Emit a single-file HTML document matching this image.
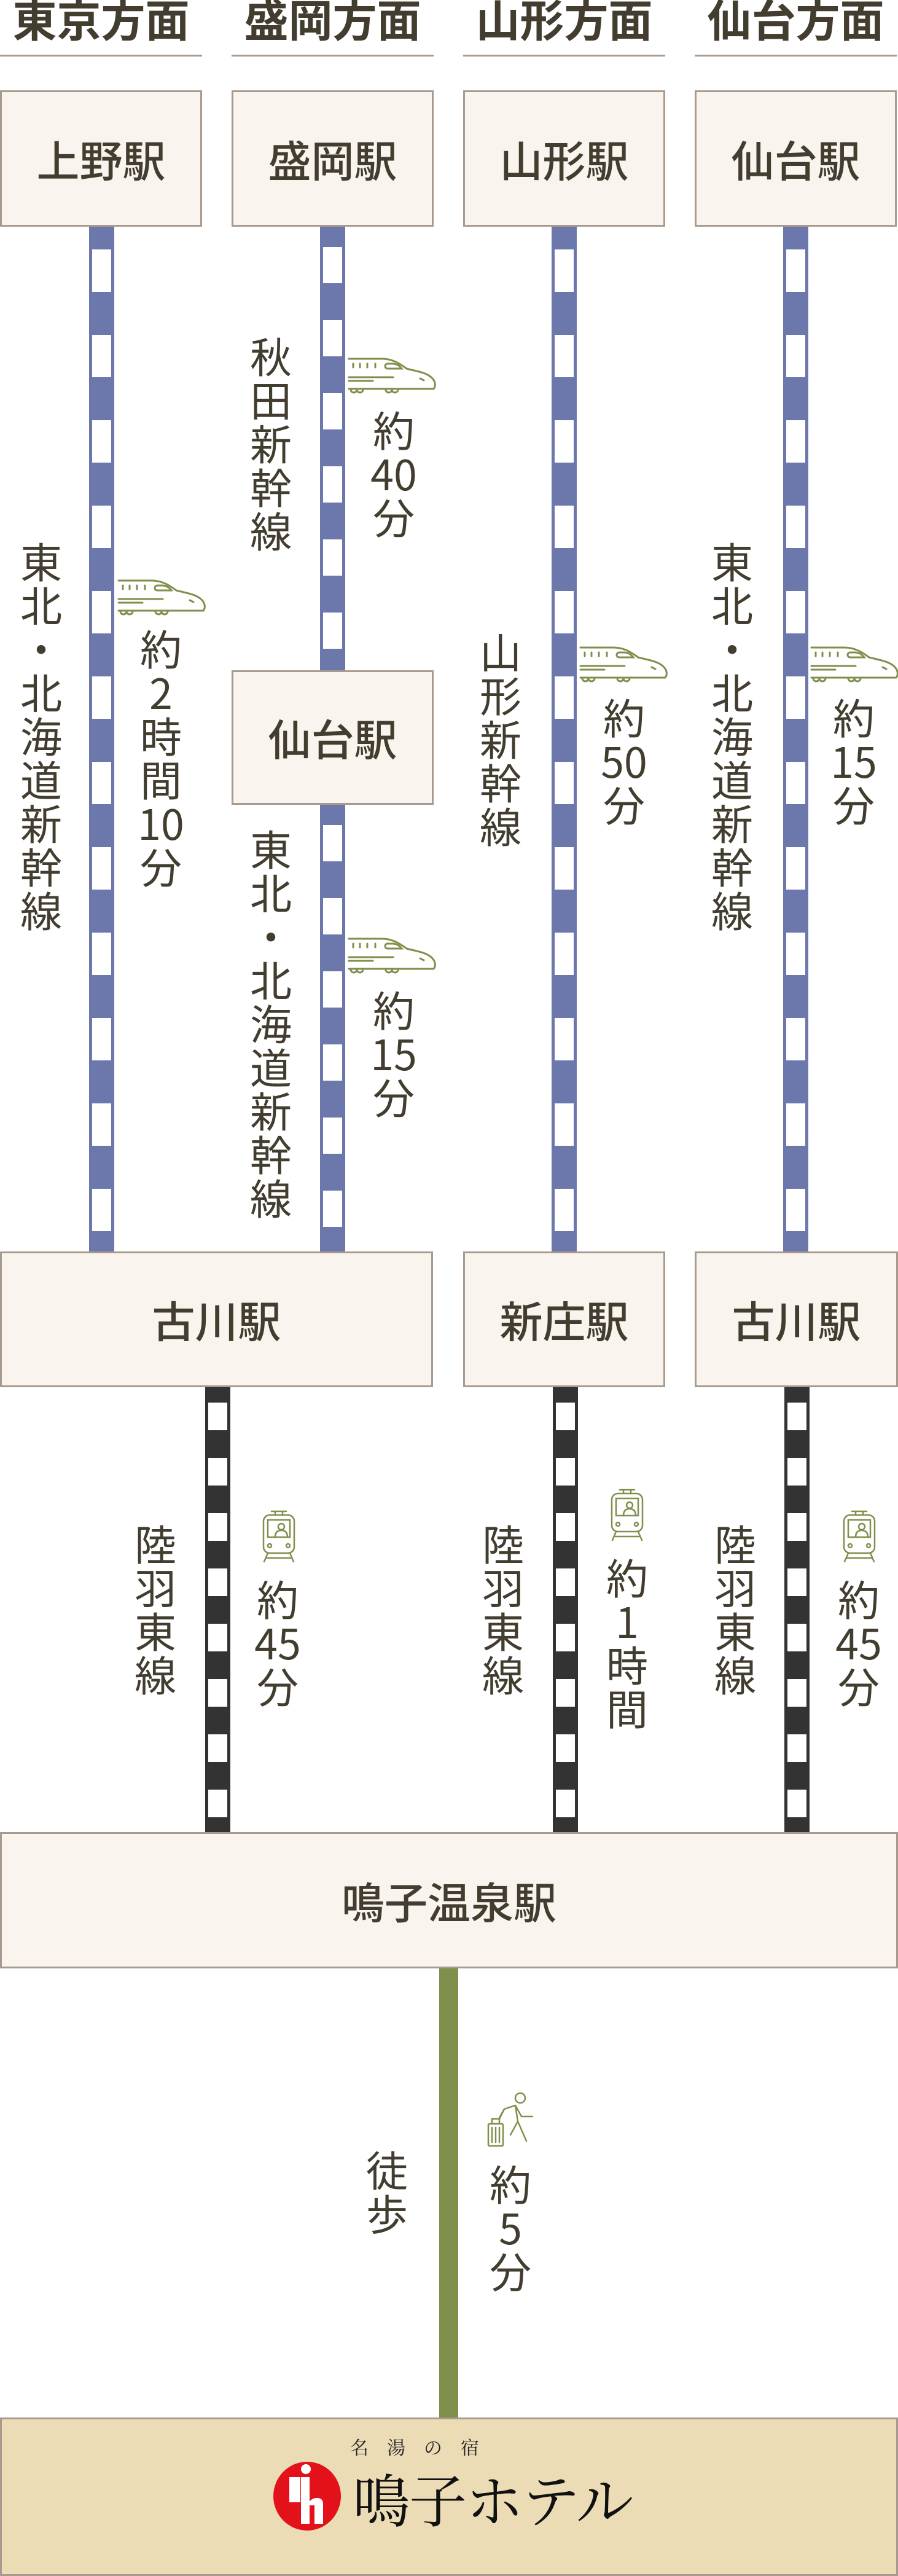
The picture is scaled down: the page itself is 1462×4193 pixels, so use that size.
<!DOCTYPE html>
<html><head><meta charset="utf-8">
<style>
*{margin:0;padding:0;box-sizing:border-box}
body{width:1462px;height:4193px;position:relative;background:#fff;font-family:"Noto Sans CJK JP","Liberation Sans",sans-serif;color:#453f32;overflow:hidden}
.a{position:absolute}
.hd{position:absolute;top:-7px;width:329px;text-align:center;font-size:72px;font-weight:700;line-height:1;color:#433d30}
.ul{position:absolute;top:89px;width:329px;height:3px;background:#a89a8e}
.st{position:absolute;background:#f9f5ee;border:3px solid #a89a8e;display:flex;align-items:center;justify-content:center;font-size:70px;font-weight:500;color:#433d30}
.ln{position:absolute;width:41px}
.ln i{position:absolute;left:5px;right:5px;top:0;bottom:0;display:block}
.v{position:absolute;width:110px;text-align:center;font-size:68px;line-height:71px;font-weight:400;color:#433d30}
svg.ic{position:absolute;overflow:visible}
</style></head><body>

<div class="hd" style="left:0">東京方面</div>
<div class="hd" style="left:377px">盛岡方面</div>
<div class="hd" style="left:754px">山形方面</div>
<div class="hd" style="left:1131px">仙台方面</div>
<div class="ul" style="left:0"></div>
<div class="ul" style="left:377px"></div>
<div class="ul" style="left:754px"></div>
<div class="ul" style="left:1131px"></div>

<div class="ln" style="left:145px;top:369px;height:1668px;background:#6c78ab"><i style="background:linear-gradient(#fff 0 69px,transparent 69px) 0 37px/31px 139px repeat-y"></i></div>
<div class="ln" style="left:521px;top:369px;height:722px;background:#6c78ab"><i style="background:linear-gradient(#fff 0 59px,transparent 59px) 0 33px/31px 119px repeat-y"></i></div>
<div class="ln" style="left:521px;top:1310px;height:727px;background:#6c78ab"><i style="background:linear-gradient(#fff 0 59px,transparent 59px) 0 33px/31px 119px repeat-y"></i></div>
<div class="ln" style="left:898px;top:369px;height:1668px;background:#6c78ab"><i style="background:linear-gradient(#fff 0 69px,transparent 69px) 0 37px/31px 139px repeat-y"></i></div>
<div class="ln" style="left:1275px;top:369px;height:1668px;background:#6c78ab"><i style="background:linear-gradient(#fff 0 69px,transparent 69px) 0 37px/31px 139px repeat-y"></i></div>

<div class="ln" style="left:334px;top:2258px;height:724px;background:#333"><i style="background:linear-gradient(#fff 0 45px,transparent 45px) 0 25px/31px 90px repeat-y"></i></div>
<div class="ln" style="left:900px;top:2258px;height:724px;background:#333"><i style="background:linear-gradient(#fff 0 45px,transparent 45px) 0 25px/31px 90px repeat-y"></i></div>
<div class="ln" style="left:1277px;top:2258px;height:724px;background:#333"><i style="background:linear-gradient(#fff 0 45px,transparent 45px) 0 25px/31px 90px repeat-y"></i></div>

<div class="a" style="left:715px;top:3204px;width:31px;height:731px;background:#7f8f4c"></div>

<div class="st" style="left:0;top:147px;width:329px;height:222px">上野駅</div>
<div class="st" style="left:377px;top:147px;width:329px;height:222px">盛岡駅</div>
<div class="st" style="left:754px;top:147px;width:329px;height:222px">山形駅</div>
<div class="st" style="left:1131px;top:147px;width:329px;height:222px">仙台駅</div>
<div class="st" style="left:377px;top:1091px;width:329px;height:219px">仙台駅</div>
<div class="st" style="left:0;top:2037px;width:705px;height:221px">古川駅</div>
<div class="st" style="left:754px;top:2037px;width:329px;height:221px">新庄駅</div>
<div class="st" style="left:1131px;top:2037px;width:331px;height:221px">古川駅</div>
<div class="st" style="left:0;top:2982px;width:1462px;height:222px">鳴子温泉駅</div>

<div class="a" style="left:0;top:3935px;width:1462px;height:258px;background:#ebdcb5;border:3px solid #a89a8e"></div>
<div class="a" style="left:570px;top:3962px;width:260px;font-family:'Noto Serif CJK SC',serif;font-size:30px;line-height:40px;letter-spacing:30px;color:#222;white-space:nowrap">名湯の宿</div>
<div class="a" style="left:574px;top:4010px;font-family:'Noto Serif CJK SC',serif;font-size:94px;line-height:110px;color:#111;white-space:nowrap;letter-spacing:-2px">鳴子ホテル</div>
<svg class="ic" style="left:444px;top:4007px" width="112" height="112" viewBox="0 0 112 112">
<ellipse cx="56" cy="56" rx="55" ry="56" fill="#e3121a"/>
<circle cx="54" cy="12" r="8" fill="#fff"/>
<rect x="27" y="25" width="18" height="41" fill="#fff"/>
<path d="M46 25h14v40q4-6 12-6q10 0 10 10v32h-14v-30h-8v30h-14z" fill="#fff"/>
</svg>

<div class="v" style="left:12px;top:876px">東<br>北<br>・<br>北<br>海<br>道<br>新<br>幹<br>線</div>
<div class="v" style="left:207px;top:1018px">約<br>2<br>時<br>間<br>10<br>分</div>
<div class="v" style="left:386px;top:542px">秋<br>田<br>新<br>幹<br>線</div>
<div class="v" style="left:586px;top:662px">約<br>40<br>分</div>
<div class="v" style="left:386px;top:1344px">東<br>北<br>・<br>北<br>海<br>道<br>新<br>幹<br>線</div>
<div class="v" style="left:586px;top:1606px">約<br>15<br>分</div>
<div class="v" style="left:760px;top:1023px">山<br>形<br>新<br>幹<br>線</div>
<div class="v" style="left:961px;top:1130px">約<br>50<br>分</div>
<div class="v" style="left:1137px;top:876px">東<br>北<br>・<br>北<br>海<br>道<br>新<br>幹<br>線</div>
<div class="v" style="left:1335px;top:1130px">約<br>15<br>分</div>

<div class="v" style="left:198px;top:2475px">陸<br>羽<br>東<br>線</div>
<div class="v" style="left:397px;top:2565px">約<br>45<br>分</div>
<div class="v" style="left:764px;top:2475px">陸<br>羽<br>東<br>線</div>
<div class="v" style="left:966px;top:2530px">約<br>1<br>時<br>間</div>
<div class="v" style="left:1142px;top:2475px">陸<br>羽<br>東<br>線</div>
<div class="v" style="left:1343px;top:2565px">約<br>45<br>分</div>

<div class="v" style="left:575px;top:3494px">徒<br>歩</div>
<div class="v" style="left:776px;top:3517px">約<br>5<br>分</div>

<svg width="0" height="0" style="position:absolute"><defs>
<g id="sk" fill="none" stroke="#7f8f4c" stroke-width="3" stroke-linecap="round">
<path d="M1 1H55C72 1 84 9 95 17C110 21 126 23 135 31C142 37 143 45 139 50H1"/>
<path d="M8 9v6M19 9v6M31 9v6M44 9v6"/>
<path d="M87 17H64a4 4 0 0 1 0-8H72C79 9 84 13 87 17Z"/>
<path d="M1 31H73M1 37H40M117 33l6 3"/>
<path d="M4 51a5 5 0 0 0 10 0a5 5 0 0 0 10 0M61 51a5 5 0 0 0 10 0a5 5 0 0 0 10 0"/>
</g>
<g id="tr" fill="none" stroke="#7f8f4c" stroke-width="2.5" stroke-linecap="round">
<path d="M18 2h24M24 2v6M36 2v6"/>
<rect x="5" y="8" width="50" height="62" rx="10"/>
<rect x="12" y="16" width="36" height="28"/>
<circle cx="34" cy="27" r="5"/>
<path d="M24 44c0-8 4-11 10-11s10 3 10 11"/>
<circle cx="15" cy="58" r="3"/><circle cx="45" cy="58" r="3"/>
<path d="M12 70l-6 14M48 70l6 14M10 78h40"/>
</g>
<g id="wk" fill="none" stroke="#7f8f4c" stroke-width="2.5" stroke-linecap="round" stroke-linejoin="round">
<circle cx="56" cy="10" r="8"/>
<path d="M48 22L30 28L22 42M48 22L52 48L66 80M48 22L58 40L76 40M52 48L40 70"/>
<rect x="4" y="52" width="24" height="36" rx="2"/>
<path d="M10 52v-8h12v8M10 58v24M16 58v24M22 58v24M22 44L30 28"/>
</g>
</defs></svg>
<svg class="ic" style="left:192px;top:944px" width="142" height="58"><use href="#sk"/></svg>
<svg class="ic" style="left:567px;top:583px" width="142" height="58"><use href="#sk"/></svg>
<svg class="ic" style="left:567px;top:1527px" width="142" height="58"><use href="#sk"/></svg>
<svg class="ic" style="left:944px;top:1053px" width="142" height="58"><use href="#sk"/></svg>
<svg class="ic" style="left:1320px;top:1053px" width="142" height="58"><use href="#sk"/></svg>

<svg class="ic" style="left:424px;top:2458px" width="60" height="90"><use href="#tr"/></svg>
<svg class="ic" style="left:991px;top:2423px" width="60" height="90"><use href="#tr"/></svg>
<svg class="ic" style="left:1369px;top:2458px" width="60" height="90"><use href="#tr"/></svg>

<svg class="ic" style="left:791px;top:3405px" width="82" height="93"><use href="#wk"/></svg>

</body></html>
